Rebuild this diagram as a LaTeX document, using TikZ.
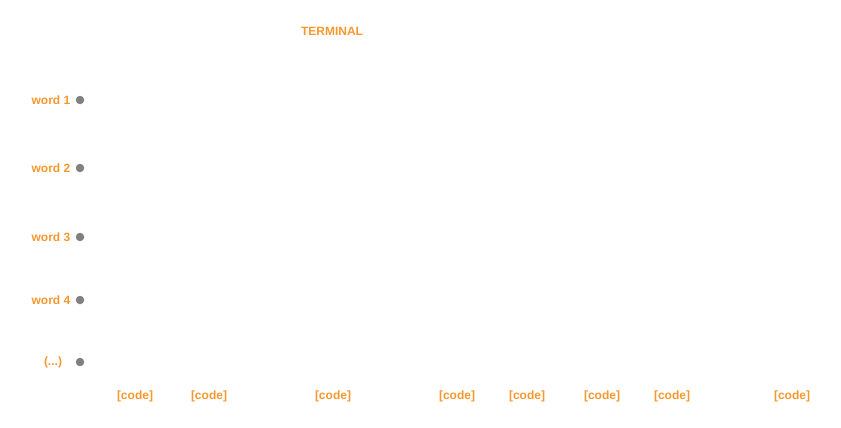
\documentclass[tikz,border=0pt]{standalone}
\usepackage{fontspec}
\setmainfont{Liberation Sans}
\definecolor{lbl}{HTML}{F7982E}
\definecolor{dotc}{HTML}{808080}
\begin{document}
\begin{tikzpicture}[x=1pt,y=-1pt,
  lab/.style={text=lbl,font=\fontsize{12}{14}\selectfont\bfseries,inner sep=0pt},
  dotn/.style={circle,fill=dotc,minimum size=8.5pt,inner sep=0pt}]
\useasboundingbox (0,0) rectangle (841,428);
\node[lab] (term) at (332,31) {TERMINAL};
\foreach \n/\y/\t in {1/100/word 1,2/168/word 2,3/237/word 3,4/300/word 4}{
  \node[dotn] (d\n) at (80,\y) {};
  \node[lab,anchor=east] (w\n) at (70.5,\y) {\t};
}
\node[dotn] (d5) at (80,362) {};
\node[lab] (w5) at (53,362) {(...)};
\foreach \i/\x in {1/135,2/209,3/333,4/457,5/527,6/602,7/672,8/792}{
  \node[lab] (c\i) at (\x,396) {[code]};
}
\end{tikzpicture}
\end{document}
